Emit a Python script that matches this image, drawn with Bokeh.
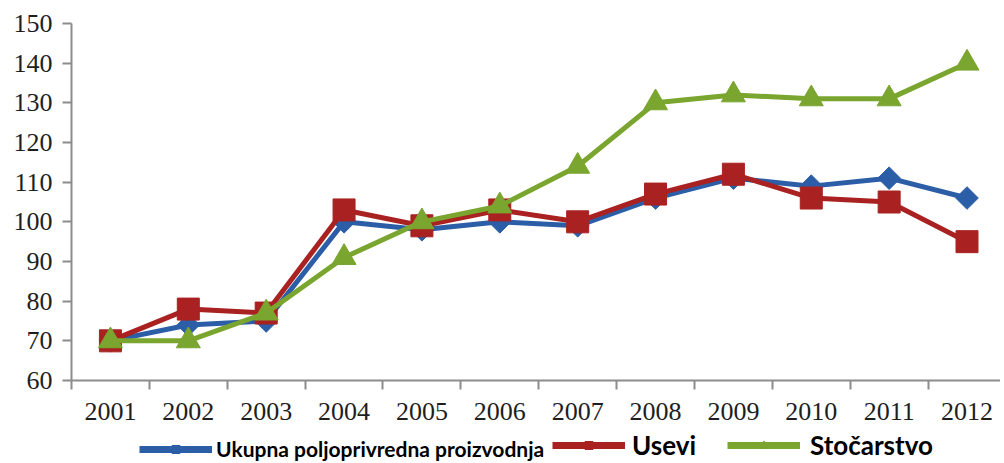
from bokeh.plotting import figure
from bokeh.models import (Range1d, FixedTicker, LinearAxis, Legend, LegendItem,
                          ColumnDataSource)
from bokeh.layouts import column
from bokeh.embed import file_html
from bokeh.resources import INLINE
import math

# ---------------- data ----------------
years = ["2001", "2002", "2003", "2004", "2005", "2006",
         "2007", "2008", "2009", "2010", "2011", "2012"]
ukupna = [70, 74, 75, 100, 98, 100, 99, 106, 111, 109, 111, 106]
usevi = [70, 78, 77, 103, 99, 103, 100, 107, 112, 106, 105, 95]
stocarstvo = [70, 70, 77, 91, 100, 104, 114, 130, 132, 131, 131, 140]
y_ticks = [60, 70, 80, 90, 100, 110, 120, 130, 140, 150]
labels = ["Ukupna poljoprivredna proizvodnja", "Usevi", "Stočarstvo"]

BLUE = "#2b5ea7"
RED = "#a92221"
GREEN = "#7aa52f"
AXIS = "#8c8c8c"

idx = list(range(len(years)))
src = ColumnDataSource(dict(x=idx, u=ukupna, s=usevi, st=stocarstvo))

p = figure(width=1000, height=430, output_backend="svg", toolbar_location=None,
           title=None,
           x_range=Range1d(-0.5, 11.43), y_range=Range1d(y_ticks[0], y_ticks[-1]),
           x_axis_type=None, y_axis_type=None,
           min_border_left=71, min_border_right=0, min_border_top=23,
           min_border_bottom=50)
p.outline_line_color = None
p.xgrid.visible = False
p.ygrid.visible = False
p.background_fill_color = "white"

# axes
xaxis = LinearAxis(ticker=FixedTicker(ticks=idx, minor_ticks=[i - 0.5 for i in range(len(years) + 1)]),
                   major_label_overrides={i: y for i, y in enumerate(years)})
xaxis.axis_line_color = AXIS
xaxis.axis_line_width = 2
xaxis.major_tick_out = 0
xaxis.major_tick_in = 0
xaxis.minor_tick_out = 9
xaxis.minor_tick_in = 0
xaxis.minor_tick_line_color = AXIS
xaxis.minor_tick_line_width = 2
xaxis.major_label_standoff = 13
xaxis.major_label_text_font = "Liberation Serif"
xaxis.major_label_text_font_size = "26px"
xaxis.major_label_text_color = "#1e1e1e"
p.add_layout(xaxis, "below")

yaxis = LinearAxis(ticker=FixedTicker(ticks=y_ticks, minor_ticks=[]))
yaxis.axis_line_color = AXIS
yaxis.axis_line_width = 2
yaxis.major_tick_out = 9
yaxis.major_tick_in = 0
yaxis.major_tick_line_color = AXIS
yaxis.major_tick_line_width = 2
yaxis.major_label_standoff = 10
yaxis.major_label_text_font = "Liberation Serif"
yaxis.major_label_text_font_size = "26px"
yaxis.major_label_text_color = "#1e1e1e"
p.add_layout(yaxis, "left")

# series
p.line("x", "u", source=src, line_color=BLUE, line_width=5)
p.scatter("x", "u", source=src, marker="square", angle=math.pi / 4, size=16,
          fill_color=BLUE, line_color=BLUE)
p.line("x", "s", source=src, line_color=RED, line_width=5)
p.scatter("x", "s", source=src, marker="square", size=22,
          fill_color=RED, line_color=RED)
p.line("x", "st", source=src, line_color=GREEN, line_width=5)
p.scatter("x", "st", source=src, marker="triangle", size=24,
          fill_color=GREEN, line_color=GREEN)

# ---------------- legend strip ----------------
lf = figure(width=1000, height=32, output_backend="svg", toolbar_location=None,
            title=None,
            x_range=Range1d(0, 1), y_range=Range1d(0, 1),
            x_axis_location=None, y_axis_location=None,
            min_border_left=71, min_border_right=0, min_border_top=0,
            min_border_bottom=0)
lf.outline_line_color = None
lf.xgrid.visible = False
lf.ygrid.visible = False

nan = float("nan")
hidden = ColumnDataSource(dict(x=[nan], y=[nan]))
def legend_renderers(color, marker, angle=0.0):
    ln = lf.line("x", "y", source=hidden, line_color=color, line_width=7)
    mk = lf.scatter("x", "y", source=hidden, marker=marker, angle=angle,
                    fill_color=color, line_color=color)
    return [ln, mk]

specs = [
    (labels[0], BLUE, "square", math.pi / 4, "21px", 68, 4),
    (labels[1], RED, "square", 0.0, "26px", 481, 7),
    (labels[2], GREEN, "triangle", 0.0, "26px", 656, 10),
]
for text, color, marker, ang, fs, x0, standoff in specs:
    lg = Legend(items=[LegendItem(label=text, renderers=legend_renderers(color, marker, ang))],
                location=(x0, 1))
    lg.glyph_width = 73
    lg.glyph_height = 20
    lg.padding = 0
    lg.margin = 0
    lg.spacing = 0
    lg.label_standoff = standoff
    lg.border_line_alpha = 0
    lg.background_fill_alpha = 0
    lg.label_text_font = "Lato"
    lg.label_text_font_style = "bold"
    lg.label_text_font_size = fs
    lg.label_text_color = "black"
    lg.label_height = 20
    lf.add_layout(lg, "center")

open("out.html", "w").write(file_html(column(p, lf, spacing=0), INLINE))
